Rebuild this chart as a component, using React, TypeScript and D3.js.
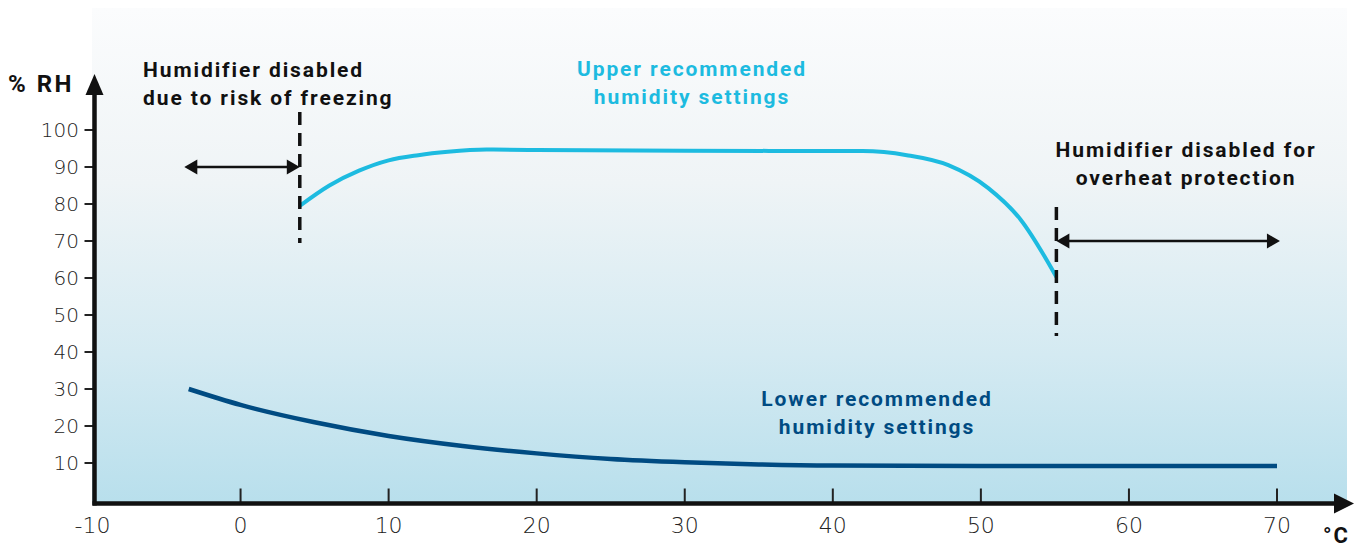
import { useEffect, useRef } from 'react';
import * as d3 from 'd3';

// axis ticks
const xTicks = [-10, 0, 10, 20, 30, 40, 50, 60, 70];
const yTicks = [10, 20, 30, 40, 50, 60, 70, 80, 90, 100];

// upper recommended humidity (°C, %RH)
const upperTemp = [4, 6, 8, 10, 12, 14, 16.6, 20, 30, 42, 45, 47.8, 50.5, 52.7, 55.1];
const upperRH = [79.5, 85, 89, 91.8, 93.2, 94.1, 94.7, 94.6, 94.4, 94.3, 93.2, 90.5, 84.3, 75.7, 60.3];

// lower recommended humidity
const lowerTemp = [-3.5, 0, 5, 10, 15, 20, 25, 30, 35, 40, 50, 70];
const lowerRH = [30, 25.7, 21, 17.3, 14.6, 12.6, 11.1, 10.2, 9.6, 9.3, 9.2, 9.2];

// disabled zones
const freezeLimit = 4;
const overheatLimit = 55.1;
const freezeArrow = { from: -3.8, to: 4, rh: 90 };
const overheatArrow = { from: 55.1, to: 70.2, rh: 70 };

const App = () => {
  const ref = useRef<SVGSVGElement | null>(null);

  useEffect(() => {
    document.body.style.margin = '0';
    const width = 1356;
    const height = 550;

    const svg = d3.select(ref.current).attr('width', width).attr('height', height);
    svg.selectAll('*').remove();

    const x = d3.scaleLinear().domain([-10, 70]).range([92.5, 1277]);
    const y = d3.scaleLinear().domain([0, 100]).range([500, 130]);
    const axisX = 94.5; // y axis line
    const axisY = 503.5; // x axis line

    const defs = svg.append('defs');
    const grad = defs.append('linearGradient').attr('id', 'bg').attr('x1', 0).attr('x2', 0).attr('y1', 0).attr('y2', 1);
    grad.append('stop').attr('offset', '0%').attr('stop-color', '#fbfcfd');
    grad.append('stop').attr('offset', '35%').attr('stop-color', '#eff4f6');
    grad.append('stop').attr('offset', '70%').attr('stop-color', '#d4eaf2');
    grad.append('stop').attr('offset', '100%').attr('stop-color', '#b8dfec');

    // background panel
    svg.append('rect')
      .attr('x', 92).attr('y', 8)
      .attr('width', 1347 - 92).attr('height', axisY - 8)
      .attr('fill', 'url(#bg)');

    // y ticks + labels
    const yg = svg.append('g');
    yg.selectAll('line').data(yTicks).enter().append('line')
      .attr('x1', axisX - 10).attr('x2', axisX)
      .attr('y1', (d) => y(d)).attr('y2', (d) => y(d))
      .attr('stroke', '#222').attr('stroke-width', 2);
    yg.selectAll('text').data(yTicks).enter().append('text')
      .attr('x', 79).attr('y', (d) => y(d) + 7)
      .attr('text-anchor', 'end')
      .style('font-family', 'DejaVu Sans').style('font-size', '20px').style('font-weight', 300)
      .attr('fill', '#222')
      .text((d) => d);

    // x ticks + labels
    const xg = svg.append('g');
    xg.selectAll('line').data(xTicks.filter((d) => d > -10)).enter().append('line')
      .attr('x1', (d) => x(d)).attr('x2', (d) => x(d))
      .attr('y1', axisY - 15).attr('y2', axisY)
      .attr('stroke', '#222').attr('stroke-width', 2);
    xg.selectAll('text').data(xTicks).enter().append('text')
      .attr('x', (d) => x(d)).attr('y', 533)
      .attr('text-anchor', 'middle')
      .style('font-family', 'DejaVu Sans').style('font-size', '22px').style('font-weight', 300)
      .attr('fill', '#222')
      .text((d) => (d < 0 ? '-' + Math.abs(d) : d));

    // axis lines with arrow heads
    svg.append('line').attr('x1', axisX).attr('x2', axisX).attr('y1', 90).attr('y2', axisY + 2)
      .attr('stroke', '#111').attr('stroke-width', 4.5);
    svg.append('path').attr('d', `M${axisX - 9},95 L${axisX},74 L${axisX + 9},95 Z`).attr('fill', '#111');
    svg.append('line').attr('x1', axisX - 2).attr('x2', 1338).attr('y1', axisY).attr('y2', axisY)
      .attr('stroke', '#111').attr('stroke-width', 4.5);
    svg.append('path').attr('d', `M1334,${axisY - 10} L1354,${axisY} L1334,${axisY + 10} Z`).attr('fill', '#111');

    // axis titles
    svg.append('text').attr('x', 8).attr('y', 92)
      .style('font-family', 'Roboto').style('font-size', '24px').style('font-weight', 700)
      .style('letter-spacing', '2.5px')
      .attr('fill', '#111').text('% RH');
    svg.append('text').attr('x', 1350).attr('y', 543).attr('text-anchor', 'end')
      .style('font-family', 'Roboto').style('font-size', '22px').style('font-weight', 700)
      .style('letter-spacing', '2px')
      .attr('fill', '#111').text('°C');

    // curves
    const line = d3.line<[number, number]>()
      .x((d) => x(d[0])).y((d) => y(d[1]))
      .curve(d3.curveMonotoneX);

    const upper = upperTemp.map((t, i) => [t, upperRH[i]] as [number, number]);
    const lower = lowerTemp.map((t, i) => [t, lowerRH[i]] as [number, number]);

    svg.append('path').datum(upper).attr('d', line)
      .attr('fill', 'none').attr('stroke', '#1dbbe0').attr('stroke-width', 4);
    svg.append('path').datum(lower).attr('d', line)
      .attr('fill', 'none').attr('stroke', '#004b82').attr('stroke-width', 4.5);

    // dashed limit lines
    svg.append('line').attr('x1', x(freezeLimit)).attr('x2', x(freezeLimit))
      .attr('y1', 112).attr('y2', 243)
      .attr('stroke', '#111').attr('stroke-width', 3.5).attr('stroke-dasharray', '13,8');
    svg.append('line').attr('x1', x(overheatLimit)).attr('x2', x(overheatLimit))
      .attr('y1', 207).attr('y2', 336)
      .attr('stroke', '#111').attr('stroke-width', 3.5).attr('stroke-dasharray', '13,8');

    // double headed arrows
    const drawArrow = (a: { from: number; to: number; rh: number }) => {
      const x0 = x(a.from);
      const x1 = x(a.to);
      const yy = y(a.rh);
      const g = svg.append('g');
      g.append('line').attr('x1', x0 + 8).attr('x2', x1 - 8).attr('y1', yy).attr('y2', yy)
        .attr('stroke', '#111').attr('stroke-width', 2.5);
      g.append('path').attr('d', `M${x0},${yy} L${x0 + 13},${yy - 7.5} L${x0 + 13},${yy + 7.5} Z`).attr('fill', '#111');
      g.append('path').attr('d', `M${x1},${yy} L${x1 - 13},${yy - 7.5} L${x1 - 13},${yy + 7.5} Z`).attr('fill', '#111');
    };
    drawArrow(freezeArrow);
    drawArrow(overheatArrow);

    // annotation text blocks
    const label = (lines: string[], cx: number, top: number, color: string, anchor: string) => {
      const t = svg.append('text')
        .attr('text-anchor', anchor)
        .style('font-family', 'Roboto').style('font-size', '21px').style('font-weight', 700)
        .style('letter-spacing', '1.9px')
        .attr('fill', color);
      lines.forEach((s, i) => {
        t.append('tspan').attr('x', cx).attr('y', top + i * 28).text(s);
      });
    };
    label(['Humidifier disabled', 'due to risk of freezing'], 143, 77, '#111', 'start');
    label(['Upper recommended', 'humidity settings'], 692, 76, '#1dbbe0', 'middle');
    label(['Humidifier disabled for', 'overheat protection'], 1186, 157, '#111', 'middle');
    label(['Lower recommended', 'humidity settings'], 877, 406, '#004b82', 'middle');
  }, []);

  return <svg ref={ref}></svg>;
};

export default App;
